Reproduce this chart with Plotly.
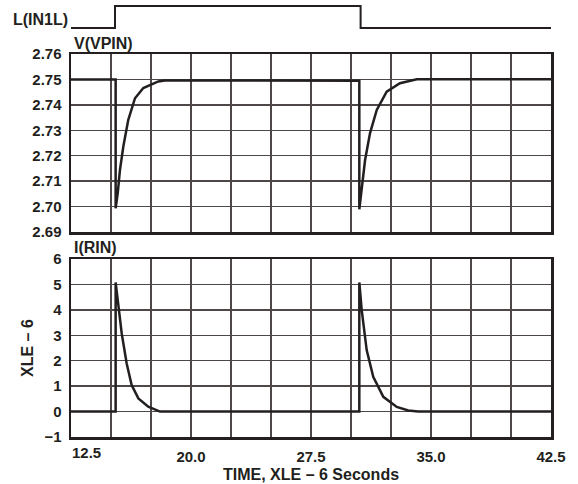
import plotly.graph_objects as go

# ---------------- data ----------------
# Logic trace L(IN1L)
logic_time = [12.5, 15.25, 15.25, 30.6, 30.6, 42.5]
logic_level = [0, 0, 1, 1, 0, 0]

# V(VPIN), volts
v_time = [12.5, 15.29, 15.29, 15.42, 15.56, 15.77, 16.08, 16.5, 17.02, 17.96, 18.38,
          30.52, 30.52, 30.67, 30.88, 31.19, 31.61, 32.23, 33.06, 34.11, 42.5]
v_vals = [2.7500, 2.7500, 2.6993, 2.7052, 2.7144, 2.7236, 2.7341, 2.7426, 2.7466, 2.7492, 2.7496,
          2.7495, 2.6989, 2.7078, 2.7183, 2.7289, 2.7380, 2.7452, 2.7485, 2.7501, 2.7501]

# I(RIN), x1e-6 A
i_time = [12.5, 15.29, 15.29, 15.46, 15.67, 15.98, 16.29, 16.71, 17.33, 18.06,
          30.52, 30.52, 30.67, 30.98, 31.39, 32.02, 32.86, 33.58, 34.2, 42.5]
i_vals = [0.0, 0.0, 5.08, 4.12, 3.07, 1.89, 1.04, 0.52, 0.19, 0.0,
          0.0, 5.08, 3.99, 2.42, 1.37, 0.58, 0.18, 0.04, 0.0, 0.0]

# ticks
x_grid_vals = [12.5, 15.0, 17.5, 20.0, 22.5, 25.0, 27.5, 30.0, 32.5, 35.0, 37.5, 40.0, 42.5]
x_label_vals = [12.5, 20.0, 27.5, 35.0, 42.5]
x_label_text = ["12.5", "20.0", "27.5", "35.0", "42.5"]
v_tick_vals = [2.69, 2.70, 2.71, 2.72, 2.73, 2.74, 2.75, 2.76]
v_tick_text = ["2.69", "2.70", "2.71", "2.72", "2.73", "2.74", "2.75", "2.76"]
i_tick_vals = [-1, 0, 1, 2, 3, 4, 5, 6]
i_tick_text = ["\u22121", "0", "1", "2", "3", "4", "5", "6"]

# ---------------- style ----------------
INK = "#231f20"
GRID = "#4d4747"
FONT = "Liberation Sans, Arial, sans-serif"
W, H = 578, 484
L, R, T, B = 71, 27, 0, 47
PH = H - T - B  # 437


def pdom(top_px, bot_px):
    return [(PH - bot_px) / PH, (PH - top_px) / PH]


fig = go.Figure()
fig.add_trace(go.Scatter(x=i_time, y=i_vals, mode="lines", xaxis="x", yaxis="y",
                         line=dict(color=INK, width=2.5), hoverinfo="skip"))
fig.add_trace(go.Scatter(x=v_time, y=v_vals, mode="lines", xaxis="x2", yaxis="y2",
                         line=dict(color=INK, width=2.5), hoverinfo="skip"))
fig.add_trace(go.Scatter(x=logic_time, y=logic_level, mode="lines", xaxis="x3", yaxis="y3",
                         line=dict(color=INK, width=2), hoverinfo="skip"))

tickfont = dict(family=FONT, size=15, color=INK, weight="bold")
x_ticktext = [("" if v == 12.5 else x_label_text[x_label_vals.index(v)]) if v in x_label_vals else ""
              for v in x_grid_vals]

common_x = dict(range=[12.5, 42.5], showgrid=True, gridcolor=GRID, gridwidth=1.5,
                showline=True, linecolor=INK, linewidth=2.5, mirror=True, automargin=False,
                zeroline=False, ticks="", tickvals=x_grid_vals, fixedrange=True)
common_y = dict(showgrid=True, gridcolor=GRID, gridwidth=1.5, automargin=False,
                showline=True, linecolor=INK, linewidth=2.5, mirror=True,
                zeroline=False, ticks="", tickfont=tickfont, ticklabelstandoff=4,
                fixedrange=True)

fig.update_layout(
    template="none",
    width=W, height=H,
    margin=dict(l=L, r=R, t=T, b=B, pad=0),
    paper_bgcolor="white", plot_bgcolor="white",
    showlegend=False,
    xaxis=dict(**common_x, anchor="y", ticktext=x_ticktext, tickfont=tickfont,
               ticklabelstandoff=4),
    xaxis2=dict(**common_x, anchor="y2", matches="x", showticklabels=False),
    xaxis3=dict(range=[12.5, 42.5], anchor="y3", visible=False, fixedrange=True, automargin=False),
    yaxis=dict(**common_y, domain=pdom(259, 437), range=[-1, 6],
               tickvals=i_tick_vals, ticktext=i_tick_text, anchor="x"),
    yaxis2=dict(**common_y, domain=pdom(54, 232), range=[2.69, 2.76],
                tickvals=v_tick_vals, ticktext=v_tick_text, anchor="x2"),
    yaxis3=dict(domain=pdom(4, 30), range=[-2 / 22, 1 + 2 / 22], visible=False,
                anchor="x3", fixedrange=True, automargin=False),
)

lab = dict(family=FONT, size=16, color=INK, weight="bold")


def py(px):
    return (PH - px) / PH


def pxx(px):
    return (px - L) / (W - L - R)


fig.add_annotation(text="L(IN1L)", xref="paper", yref="paper", x=pxx(70), y=py(20),
                   xanchor="right", yanchor="middle", showarrow=False, font=lab)
fig.add_annotation(text="V(VPIN)", xref="paper", yref="paper", x=pxx(72), y=py(43),
                   xanchor="left", yanchor="middle", showarrow=False, font=lab)
fig.add_annotation(text="I(RIN)", xref="paper", yref="paper", x=pxx(72), y=py(247),
                   xanchor="left", yanchor="middle", showarrow=False, font=lab)
fig.add_annotation(text="XLE \u2013 6", xref="paper", yref="paper", x=pxx(27), y=py(348),
                   xanchor="center", yanchor="middle", textangle=-90, showarrow=False, font=lab)
fig.add_annotation(text="TIME, XLE \u2013 6 Seconds", xref="paper", yref="paper", x=pxx(311),
                   y=py(474), xanchor="center", yanchor="middle", showarrow=False, font=lab)
fig.add_annotation(text=x_label_text[0], xref="x", yref="paper", x=x_label_vals[0], y=py(452),
                   xanchor="center", yanchor="middle", xshift=15, showarrow=False, font=tickfont)

fig.write_html("out.html", config={"displayModeBar": False, "staticPlot": True},
               post_script="document.body.style.margin='0';document.body.style.padding='0';")
